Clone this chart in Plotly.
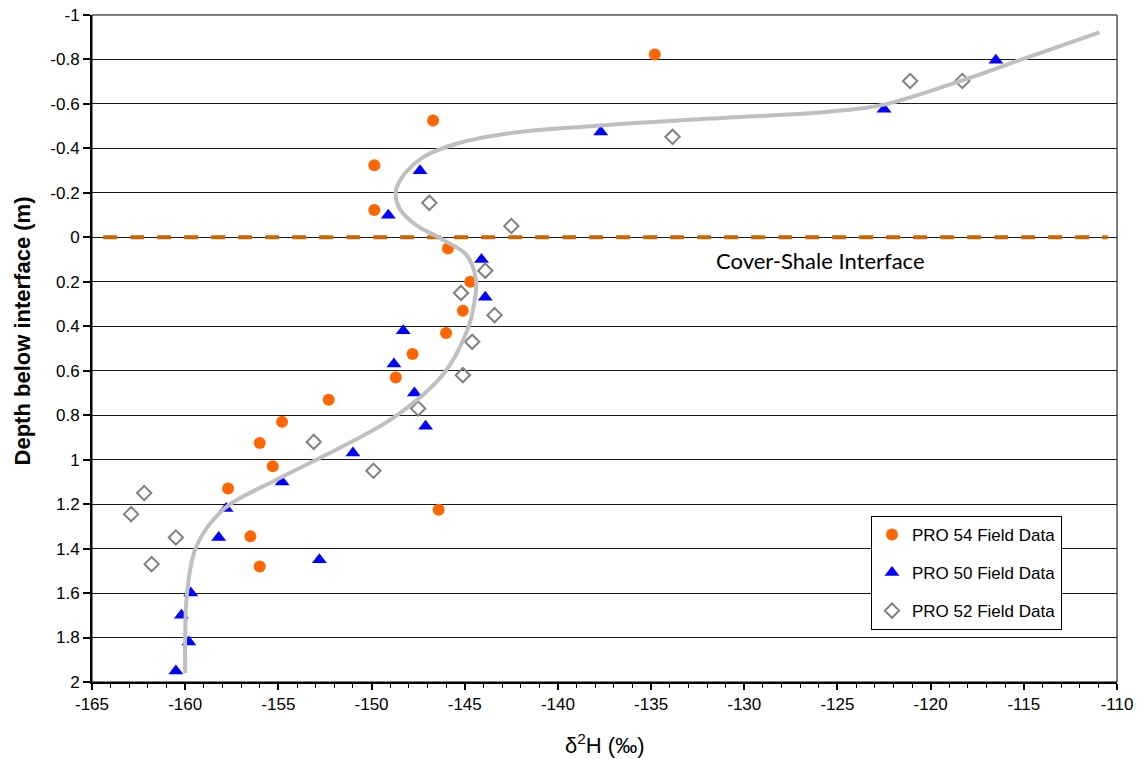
import plotly.graph_objects as go

# ---------------- data ----------------
pro54_x = [-134.8, -146.7, -149.85, -149.85, -145.9, -144.7, -145.1, -146.0, -147.8,
           -148.7, -152.3, -154.8, -156.0, -155.3, -157.7, -146.4, -156.5, -156.0]
pro54_y = [-0.822, -0.525, -0.324, -0.123, 0.05, 0.2, 0.33, 0.43, 0.525,
           0.63, 0.73, 0.83, 0.925, 1.03, 1.13, 1.225, 1.345, 1.48]

pro50_x = [-116.5, -122.5, -137.7, -147.4, -149.1, -144.1, -143.9, -148.3, -148.8, -147.7,
           -147.1, -151.0, -154.8, -157.8, -158.2, -152.8, -159.7, -160.2, -159.8, -160.5]
pro50_y = [-0.796, -0.576, -0.474, -0.299, -0.099, 0.1, 0.27, 0.42, 0.57, 0.7,
           0.85, 0.97, 1.1, 1.22, 1.35, 1.45, 1.6, 1.7, 1.82, 1.95]

pro52_x = [-121.1, -118.3, -133.85, -146.9, -142.5, -143.9, -145.2, -143.4, -144.6,
           -145.1, -147.5, -153.1, -149.9, -162.2, -162.9, -160.5, -161.8]
pro52_y = [-0.703, -0.703, -0.452, -0.155, -0.051, 0.15, 0.25, 0.35, 0.47,
           0.62, 0.77, 0.92, 1.05, 1.15, 1.245, 1.35, 1.47]

curve_x = [-110.95, -114.75, -118.3, -122.5, -125.5, -131.8, -138.2,
           -142.7, -145.4, -147.2, -148.35, -148.7, -148.5, -147.6, -146.3, -144.9,
           -144.4, -144.5, -144.85, -146.1, -148.8, -152.6, -155.1, -157.9,
           -159.4, -159.9, -160.0, -160.0]
curve_y = [-0.922, -0.811, -0.706, -0.597, -0.565, -0.534, -0.5,
           -0.467, -0.422, -0.362, -0.272, -0.205, -0.13, -0.055, 0.005, 0.08,
           0.19, 0.3, 0.416, 0.61, 0.81, 0.985, 1.09, 1.22,
           1.39, 1.6, 1.8, 1.96]

interface_x = [-164.4, -110.5]
interface_y = [0, 0]

x_tickvals = [-165, -160, -155, -150, -145, -140, -135, -130, -125, -120, -115, -110]
x_ticktext = ["-165", "-160", "-155", "-150", "-145", "-140", "-135", "-130",
              "-125", "-120", "-115", "-110"]
y_tickvals = [-1, -0.8, -0.6, -0.4, -0.2, 0, 0.2, 0.4, 0.6, 0.8, 1, 1.2, 1.4, 1.6, 1.8, 2]
y_ticktext = ["-1", "-0.8", "-0.6", "-0.4", "-0.2", "0", "0.2", "0.4", "0.6", "0.8",
              "1", "1.2", "1.4", "1.6", "1.8", "2"]

# ---------------- figure ----------------
fig = go.Figure()

fig.add_trace(go.Scatter(
    x=interface_x, y=interface_y, mode="lines", showlegend=False, hoverinfo="skip",
    line=dict(color="#CC6600", width=4, dash="14px,13px")))

fig.add_trace(go.Scatter(
    x=pro54_x, y=pro54_y, mode="markers", name="PRO 54 Field Data", legendgroup="a",
    marker=dict(symbol="circle", size=12, color="#FF6600", line=dict(width=0))))
fig.add_trace(go.Scatter(
    x=pro50_x, y=pro50_y, mode="markers", name="PRO 50 Field Data", legendgroup="b",
    marker=dict(symbol="triangle-up", size=13, color="#0000FF", line=dict(width=0))))
fig.add_trace(go.Scatter(
    x=pro52_x, y=pro52_y, mode="markers", name="PRO 52 Field Data", legendgroup="c",
    marker=dict(symbol="diamond-open", size=11, color="#808080", line=dict(width=2, color="#808080"))))

fig.add_trace(go.Scatter(
    x=curve_x, y=curve_y, mode="lines", showlegend=False, hoverinfo="skip",
    line=dict(color="#BFBFBF", width=4, shape="spline", smoothing=1.0)))

fig.update_layout(
    width=1147, height=759,
    margin=dict(l=92, r=30, t=15, b=77, autoexpand=False),
    paper_bgcolor="white", plot_bgcolor="white",
    font=dict(family="Liberation Sans, Arial, sans-serif", color="black"),
    legend=dict(
        x=0.76, y=0.249, xanchor="left", yanchor="top",
        bgcolor="white", bordercolor="black", borderwidth=1,
        font=dict(size=17, family="Liberation Sans, Arial, sans-serif", color="black"),
        tracegroupgap=13, traceorder="grouped",
    ),
)

fig.update_xaxes(
    range=[-165, -110], tickvals=x_tickvals, ticktext=x_ticktext,
    showgrid=False, zeroline=False, automargin=False,
    showline=True, linecolor="black", linewidth=2,
    ticks="outside", ticklen=6, tickwidth=2, tickcolor="black",
    tickfont=dict(size=17),
    minor=dict(dtick=1, tick0=-165, ticks="outside", ticklen=4, tickwidth=1, tickcolor="black", showgrid=False),
)
fig.update_yaxes(
    range=[2, -1], tickvals=y_tickvals, ticktext=y_ticktext,
    showgrid=True, gridcolor="#1a1a1a", gridwidth=1, zeroline=False, automargin=False,
    showline=True, linecolor="black", linewidth=2,
    ticks="outside", ticklen=7, tickwidth=1.5, tickcolor="black",
    tickfont=dict(size=17),
)

# top/right border
fig.add_shape(type="rect", xref="paper", yref="paper", x0=0, y0=0, x1=1, y1=1,
              line=dict(color="black", width=1), layer="above")

fig.add_annotation(
    text="Depth below interface (m)", textangle=-90,
    xref="paper", yref="paper", x=-0.068, y=0.526, xanchor="center", yanchor="middle",
    showarrow=False, font=dict(size=22, family="Liberation Sans, Arial, sans-serif", color="black", weight="bold"))
fig.add_annotation(
    text="δ<sup>2</sup>H (‰)",
    xref="paper", yref="paper", x=0.5, y=-0.093, xanchor="center", yanchor="middle",
    showarrow=False, font=dict(size=22, family="Liberation Sans, Arial, sans-serif", color="black"))
fig.add_annotation(
    text="Cover-Shale Interface", x=-125.9, y=0.102, xref="x", yref="y",
    showarrow=False, font=dict(size=22, family="Lato, Open Sans, sans-serif", color="black"))

fig.write_html("out.html")
